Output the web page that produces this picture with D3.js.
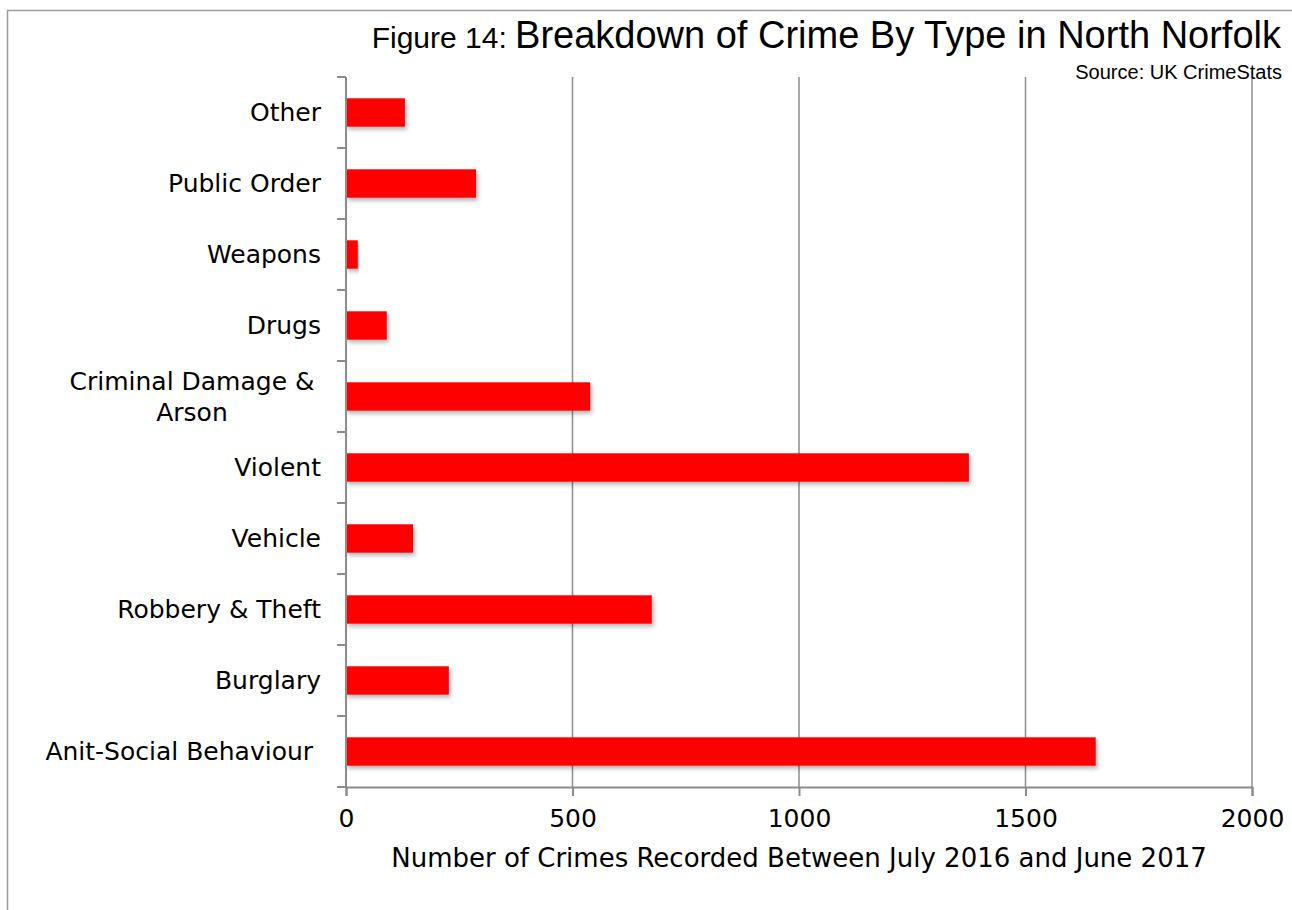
<!DOCTYPE html>
<html>
<head>
<meta charset="utf-8">
<script src="https://cdnjs.cloudflare.com/ajax/libs/d3/7.8.5/d3.min.js"></script>
<style>
  html, body { margin: 0; padding: 0; background: #fff; }
  svg { display: block; }
</style>
</head>
<body>
<svg id="chart" width="1292" height="910"></svg>
<script>
// Crime categories, top to bottom
const categories = [
  "Other", "Public Order", "Weapons", "Drugs", "Criminal Damage & Arson",
  "Violent", "Vehicle", "Robbery & Theft", "Burglary", "Anit-Social Behaviour"
];
// Crimes recorded per category
const counts = [130, 287, 26, 90, 539, 1375, 148, 675, 227, 1655];
const xTicks = [0, 500, 1000, 1500, 2000];

const titlePrefix = "Figure 14: ";
const titleMain = "Breakdown of Crime By Type in North Norfolk";
const sourceText = "Source: UK CrimeStats";
const xAxisTitle = "Number of Crimes Recorded Between July 2016 and June 2017";

const svg = d3.select("#chart");
const margin = { left: 346, right: 40, top: 77, bottom: 123 };
const W = 1292, H = 910;
const labelFont = "'DejaVu Sans', sans-serif";
const axisColor = "#8c8c8c";

// Outer frame (top and left edges)
svg.append("path")
  .attr("d", `M7.5,${H} V10.5 H${W}`)
  .attr("fill", "none").attr("stroke", "#9a9a9a").attr("stroke-width", 1.5);

const x = d3.scaleLinear().domain([0, 2000]).range([margin.left, W - margin.right]);
const y = d3.scaleBand().domain(categories)
  .range([margin.top, H - margin.bottom]).paddingInner(0.6).paddingOuter(0.3);
const yEdges = d3.scaleBand().domain(categories).range([margin.top, H - margin.bottom]);

const defs = svg.append("defs");
const f = defs.append("filter").attr("id", "shadow")
  .attr("x", "-5%").attr("y", "-30%").attr("width", "115%").attr("height", "180%");
f.append("feDropShadow").attr("dx", 2).attr("dy", 3).attr("stdDeviation", 2)
  .attr("flood-color", "#000").attr("flood-opacity", 0.28);

// Vertical gridlines
svg.append("g").selectAll("line").data(xTicks.filter(d => d > 0)).join("line")
  .attr("x1", d => x(d)).attr("x2", d => x(d))
  .attr("y1", margin.top).attr("y2", H - margin.bottom)
  .attr("stroke", axisColor).attr("stroke-width", 1.5);

// Bars
svg.append("g").selectAll("rect").data(categories).join("rect")
  .attr("x", x(0))
  .attr("y", d => y(d))
  .attr("width", (d, i) => x(counts[i]) - x(0))
  .attr("height", y.bandwidth())
  .attr("fill", "#ff0000")
  .attr("filter", "url(#shadow)");

// Y axis line with ticks at category boundaries
const yAxisG = svg.append("g");
yAxisG.append("line")
  .attr("x1", x(0)).attr("x2", x(0))
  .attr("y1", margin.top).attr("y2", H - margin.bottom)
  .attr("stroke", axisColor).attr("stroke-width", 2);
const boundaries = categories.map(c => yEdges(c)).concat([H - margin.bottom]);
yAxisG.selectAll("line.tick").data(boundaries).join("line").attr("class", "tick")
  .attr("x1", x(0) - 9).attr("x2", x(0))
  .attr("y1", d => d).attr("y2", d => d)
  .attr("stroke", axisColor).attr("stroke-width", 2);

// X axis
const xAxis = d3.axisBottom(x).tickValues(xTicks).tickFormat(d3.format("d"))
  .tickSize(9).tickPadding(13);
const xg = svg.append("g").attr("transform", `translate(0,${H - margin.bottom})`).call(xAxis);
xg.select(".domain").attr("stroke", axisColor).attr("stroke-width", 2);
xg.selectAll(".tick line").attr("stroke", axisColor).attr("stroke-width", 2);
xg.selectAll(".tick text")
  .attr("font-family", labelFont).attr("font-size", 25).attr("fill", "#000");

// Category labels (wrapped where long)
const wrap = { "Criminal Damage & Arson": ["Criminal Damage &", "Arson"],
               "Anit-Social Behaviour": ["Anit-Social Behaviour\u00a0"] };
const lab = svg.append("g").attr("font-family", labelFont).attr("font-size", 25).attr("fill", "#000");
categories.forEach(c => {
  const lines = wrap[c] || [c];
  const cy = y(c) + y.bandwidth() / 2;
  const lh = 31;
  const t = lab.append("text").attr("text-anchor", lines.length > 1 ? "middle" : "end");
  lines.forEach((ln, k) => {
    t.append("tspan")
      .attr("x", lines.length > 1 ? 192 : 321)
      .attr("y", cy + (k - (lines.length - 1) / 2) * lh)
      .attr("dy", "0.35em")
      .text(ln);
  });
});

// Axis title
svg.append("text")
  .attr("x", (x(0) + x(2000)) / 2).attr("y", 867)
  .attr("text-anchor", "middle")
  .attr("font-family", labelFont).attr("font-size", 26)
  .text(xAxisTitle);

// Chart title and source
const title = svg.append("text")
  .attr("x", 1281).attr("y", 48).attr("text-anchor", "end")
  .attr("font-family", "'Liberation Sans', Arial, sans-serif");
title.append("tspan").attr("font-size", 30).text(titlePrefix);
title.append("tspan").attr("font-size", 38).text(titleMain);

svg.append("text")
  .attr("x", 1282).attr("y", 79).attr("text-anchor", "end")
  .attr("font-family", "'Liberation Sans', Arial, sans-serif").attr("font-size", 20)
  .text(sourceText);
</script>
</body>
</html>
